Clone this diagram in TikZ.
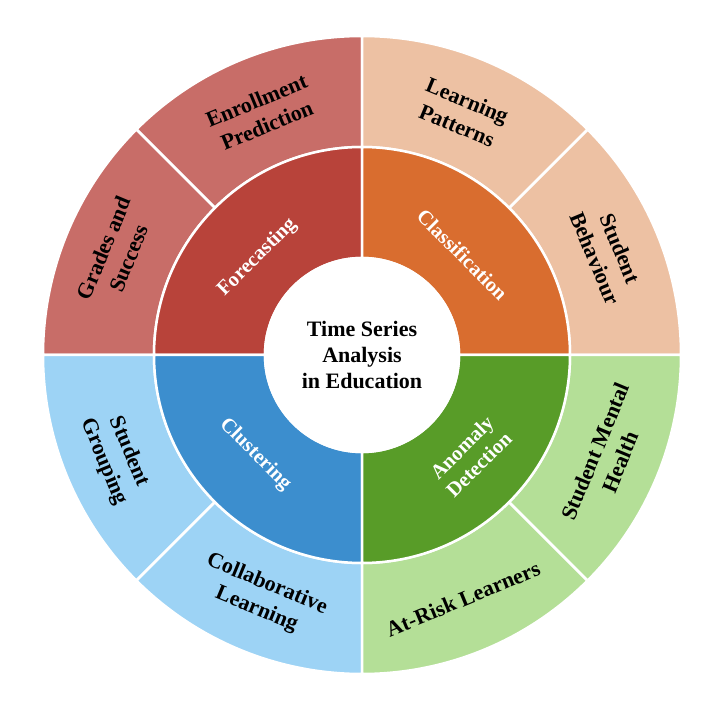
\documentclass[tikz,border=0pt]{standalone}
\usepackage{fontspec}
\setmainfont{Liberation Serif}
\definecolor{fcin}{HTML}{B8433A}
\definecolor{fcout}{HTML}{C86D68}
\definecolor{clin}{HTML}{D96D2F}
\definecolor{clout}{HTML}{EDC1A3}
\definecolor{csin}{HTML}{3C8ECE}
\definecolor{csout}{HTML}{9DD3F5}
\definecolor{anin}{HTML}{589C28}
\definecolor{anout}{HTML}{B4DF97}
\newcommand\ringsect[5]{% color, a1, a2, r1, r2
  \filldraw[sectline,fill=#1] (#2:#4) arc[start angle=#2,end angle=#3,radius=#4]
    -- (#3:#5) arc[start angle=#3,end angle=#2,radius=#5] -- cycle;}
\tikzset{
  sectline/.style={draw=white,line width=2.5pt,line join=round},
  innerlab/.style={text=white,font=\fontsize{20.5}{24}\selectfont\bfseries,align=center,inner sep=0pt},
  outerlab/.style={text=black,font=\fontsize{22}{27}\selectfont\bfseries,align=center,inner sep=0pt},
  centerlab/.style={text=black,font=\fontsize{22}{26}\selectfont\bfseries,align=center,inner sep=0pt}
}
\begin{document}
\begin{tikzpicture}[x=1pt,y=1pt]
\useasboundingbox[fill=white] (-362,-351) rectangle (360,355);
% outer ring
\ringsect{fcout}{90}{135}{208}{319}
\ringsect{fcout}{135}{180}{208}{319}
\ringsect{clout}{0}{45}{208}{319}
\ringsect{clout}{45}{90}{208}{319}
\ringsect{csout}{180}{225}{208}{319}
\ringsect{csout}{225}{270}{208}{319}
\ringsect{anout}{270}{315}{208}{319}
\ringsect{anout}{315}{360}{208}{319}
% inner ring
\ringsect{fcin}{90}{180}{97}{208}
\ringsect{clin}{0}{90}{97}{208}
\ringsect{csin}{180}{270}{97}{208}
\ringsect{anin}{270}{360}{97}{208}
\filldraw[sectline,fill=white] (0,0) circle[radius=97];
% center
\node[centerlab] (center) at (0,0) {Time Series\\Analysis\\in Education};
% inner labels
\node[innerlab,rotate=45] (forecast) at (137:143) {Forecasting};
\node[innerlab,rotate=-45] (classif) at (45:142) {Classification};
\node[innerlab,rotate=-45] (cluster) at (223:146) {Clustering};
\node[innerlab,rotate=45] (anomaly) at (317:148) {Anomaly\\Detection};
% outer labels
\node[outerlab,rotate=22.5] (enroll) at (112.5:262) {Enrollment\\Prediction};
\node[outerlab,rotate=67.5] (grades) at (157.5:266) {Grades and\\Success};
\node[outerlab,rotate=-22.5] (learnpat) at (67.5:262) {Learning\\Patterns};
\node[outerlab,rotate=-67.5] (behav) at (22.5:266) {Student\\Behaviour};
\node[outerlab,rotate=67.5] (mental) at (337.5:266) {Student Mental\\Health};
\node[outerlab,rotate=22.5] (atrisk) at (292.5:264) {At-Risk Learners};
\node[outerlab,rotate=-22.5] (collab) at (247.5:262) {Collaborative\\Learning};
\node[outerlab,rotate=-67.5] (group) at (202.5:266) {Student\\Grouping};
\end{tikzpicture}
\end{document}
